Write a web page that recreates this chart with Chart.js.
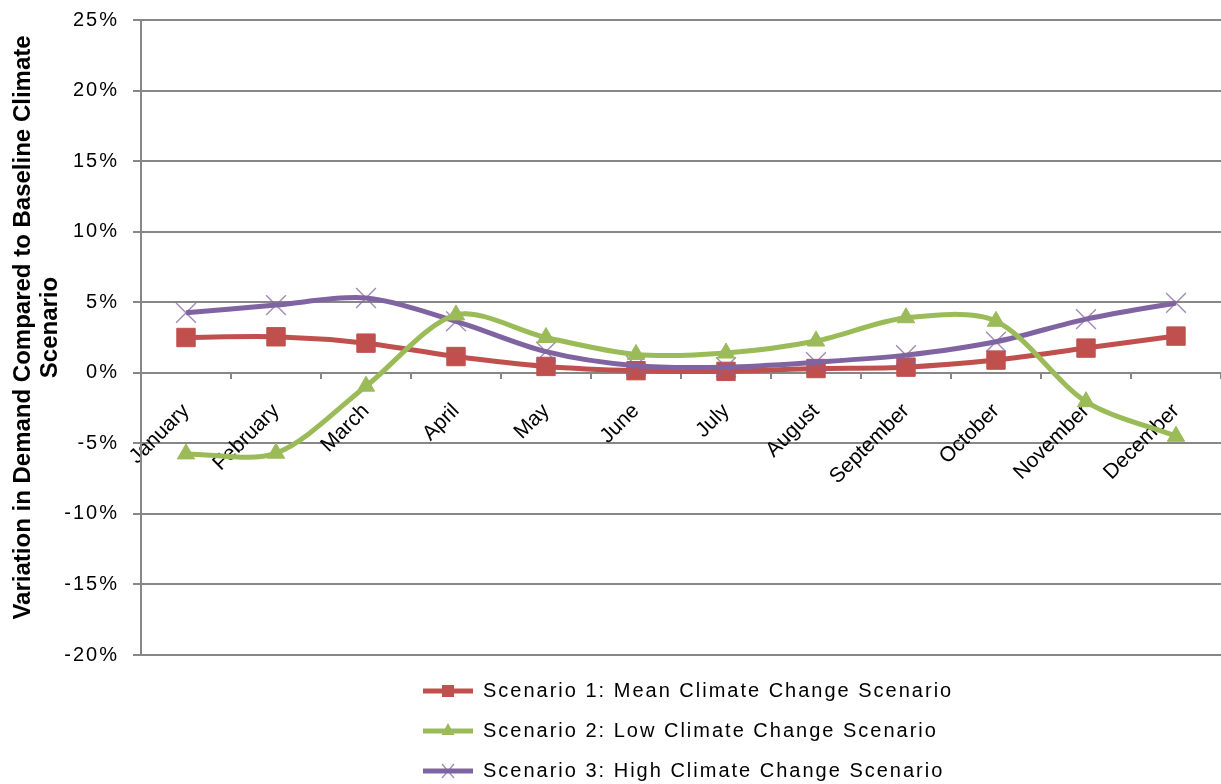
<!DOCTYPE html>
<html>
<head>
<meta charset="utf-8">
<title>Variation in Demand by Climate Scenario</title>
<script src="https://cdn.jsdelivr.net/npm/chart.js@4.4.0/dist/chart.umd.min.js"></script>
<style>
  html, body { margin: 0; padding: 0; background: #ffffff; }
  #wrap { width: 1221px; height: 784px; }
</style>
</head>
<body>
<div id="wrap"><canvas id="demandChart" width="1221" height="784"></canvas></div>
<script>
// ---- data -------------------------------------------------------------
const months = ['January', 'February', 'March', 'April', 'May', 'June',
                'July', 'August', 'September', 'October', 'November', 'December'];

const scenarioNames = [
  'Scenario 1: Mean Climate Change Scenario',
  'Scenario 2: Low Climate Change Scenario',
  'Scenario 3: High Climate Change Scenario'
];

// variation in demand, percent
const meanScenario = [2.5, 2.55, 2.1, 1.15, 0.45, 0.15, 0.1, 0.3, 0.4, 0.9, 1.75, 2.6];
const lowScenario  = [-5.75, -5.7, -0.95, 4.1, 2.5, 1.3, 1.4, 2.25, 3.9, 3.65, -2.05, -4.5];
const highScenario = [4.25, 4.8, 5.3, 3.65, 1.5, 0.5, 0.4, 0.75, 1.25, 2.2, 3.8, 4.95];

const yMin = -20;
const yMax = 25;
const yStep = 5;

const yTitleLines = ['Variation in Demand Compared to Baseline Climate', 'Scenario'];

// ---- styling ----------------------------------------------------------
const RED = '#C0504D';
const GREEN = '#9BBB59';
const PURPLE = '#8064A2';
const CROSS = 'rgba(128,100,162,0.75)';
const GRID = '#878787';
const FONT = "'Liberation Sans', Arial, Helvetica, sans-serif";
const SMOOTH = 0.3;

// small legend sample: a line with the series marker in the middle
function legendSample(color, marker) {
  const c = document.createElement('canvas');
  c.width = 50; c.height = 22;
  const g = c.getContext('2d');
  g.strokeStyle = color;
  g.lineWidth = 5;
  g.beginPath(); g.moveTo(0, 11); g.lineTo(50, 11); g.stroke();
  g.fillStyle = color;
  if (marker === 'rect') {
    g.fillRect(19, 5, 12, 12);
  } else if (marker === 'triangle') {
    g.beginPath(); g.moveTo(25, 3); g.lineTo(31.5, 15); g.lineTo(18.5, 15); g.closePath(); g.fill();
  } else {
    g.strokeStyle = CROSS;
    g.lineWidth = 1.3;
    g.beginPath();
    g.moveTo(19, 4); g.lineTo(31, 18);
    g.moveTo(31, 4); g.lineTo(19, 18);
    g.stroke();
  }
  return c;
}

const legendSamples = [
  legendSample(RED, 'rect'),
  legendSample(GREEN, 'triangle'),
  legendSample(PURPLE, 'cross')
];

// stacks the legend entries one per row, left aligned under the plot,
// spaces out the legend and value-axis lettering, and lifts the axis title a little
const stackedLegend = {
  id: 'stackedLegend',
  afterInit(chart) {
    const lg = chart.legend;
    const fit = lg.fit;
    lg.fit = function () {
      fit.call(this);
      this.height = 129;
    };
    const draw = lg.draw;
    lg.draw = function (...args) {
      const ctx = this.ctx;
      ctx.save();
      ctx.letterSpacing = '2px';
      draw.apply(this, args);
      ctx.restore();
    };
  },
  afterLayout(chart) {
    const lg = chart.legend;
    lg.left = 403;
    lg.right = 1000;
    lg.top = 661;
    lg.bottom = 784;
  },
  beforeDraw(chart) {
    const y = chart.scales.y;
    if (y && !y._spaced) {
      const drawLabels = y.drawLabels;
      y.drawLabels = function (...args) {
        const ctx = this.ctx;
        ctx.save();
        ctx.letterSpacing = '2px';
        drawLabels.apply(this, args);
        ctx.restore();
      };
      const drawTitle = y.drawTitle;
      y.drawTitle = function (...args) {
        const ctx = this.ctx;
        ctx.save();
        ctx.translate(0, -10);
        drawTitle.apply(this, args);
        ctx.restore();
      };
      y._spaced = true;
    }
  }
};

const ctx = document.getElementById('demandChart').getContext('2d');

new Chart(ctx, {
  type: 'line',
  data: {
    labels: months,
    datasets: [
      {
        label: scenarioNames[0],
        data: meanScenario,
        borderColor: RED,
        backgroundColor: RED,
        borderWidth: 5,
        tension: SMOOTH,
        pointStyle: 'rect',
        pointRadius: 13,
        pointBorderWidth: 1,
        pointBackgroundColor: RED,
        pointBorderColor: RED,
        order: 3
      },
      {
        label: scenarioNames[1],
        data: lowScenario,
        borderColor: GREEN,
        backgroundColor: GREEN,
        borderWidth: 5,
        tension: SMOOTH,
        pointStyle: 'triangle',
        pointRadius: 10,
        pointBorderWidth: 1,
        pointBackgroundColor: GREEN,
        pointBorderColor: GREEN,
        order: 1
      },
      {
        label: scenarioNames[2],
        data: highScenario,
        borderColor: PURPLE,
        backgroundColor: PURPLE,
        borderWidth: 5,
        tension: SMOOTH,
        pointStyle: 'crossRot',
        pointRadius: 14,
        pointBorderWidth: 1.4,
        pointBorderColor: CROSS,
        order: 2
      }
    ]
  },
  options: {
    responsive: false,
    animation: false,
    devicePixelRatio: 1,
    layout: { autoPadding: false, padding: { top: 20, right: 0, bottom: 0, left: 0 } },
    plugins: {
      tooltip: { enabled: false },
      legend: {
        position: 'bottom',
        align: 'start',
        labels: {
          usePointStyle: true,
          pointStyleWidth: 50,
          padding: 20,
          color: '#000000',
          font: { family: FONT, size: 20 },
          generateLabels(chart) {
            return chart.data.datasets.map((ds, i) => ({
              text: ds.label,
              pointStyle: legendSamples[i],
              fillStyle: ds.borderColor,
              strokeStyle: ds.borderColor,
              lineWidth: 0,
              hidden: false,
              datasetIndex: i,
              fontColor: '#000000'
            }));
          }
        }
      }
    },
    scales: {
      x: {
        type: 'category',
        position: { y: 0 },
        offset: true,
        afterFit(scale) {
          scale.paddingLeft = 0;
          scale.paddingRight = 0;
        },
        grid: {
          offset: true,
          drawOnChartArea: false,
          drawTicks: true,
          tickLength: 6,
          color: GRID,
          lineWidth: 2
        },
        border: { display: false },
        ticks: {
          minRotation: 45,
          maxRotation: 45,
          autoSkip: false,
          padding: 20,
          color: '#000000',
          font: { family: FONT, size: 21 }
        }
      },
      y: {
        min: yMin,
        max: yMax,
        afterFit(scale) {
          scale.width = 141;
          scale.paddingTop = 0;
          scale.paddingBottom = 0;
        },
        grid: {
          color: GRID,
          lineWidth: 2,
          drawTicks: true,
          tickLength: 8
        },
        border: { display: true, color: GRID, width: 2 },
        ticks: {
          stepSize: yStep,
          padding: 14,
          color: '#000000',
          font: { family: FONT, size: 20 },
          callback: (v) => v + '%'
        },
        title: {
          display: true,
          text: yTitleLines,
          color: '#000000',
          padding: { top: 9.5, bottom: 0 },
          font: { family: FONT, size: 24, weight: 'bold', lineHeight: 27 / 24 }
        }
      }
    }
  },
  plugins: [stackedLegend]
});
</script>
</body>
</html>
